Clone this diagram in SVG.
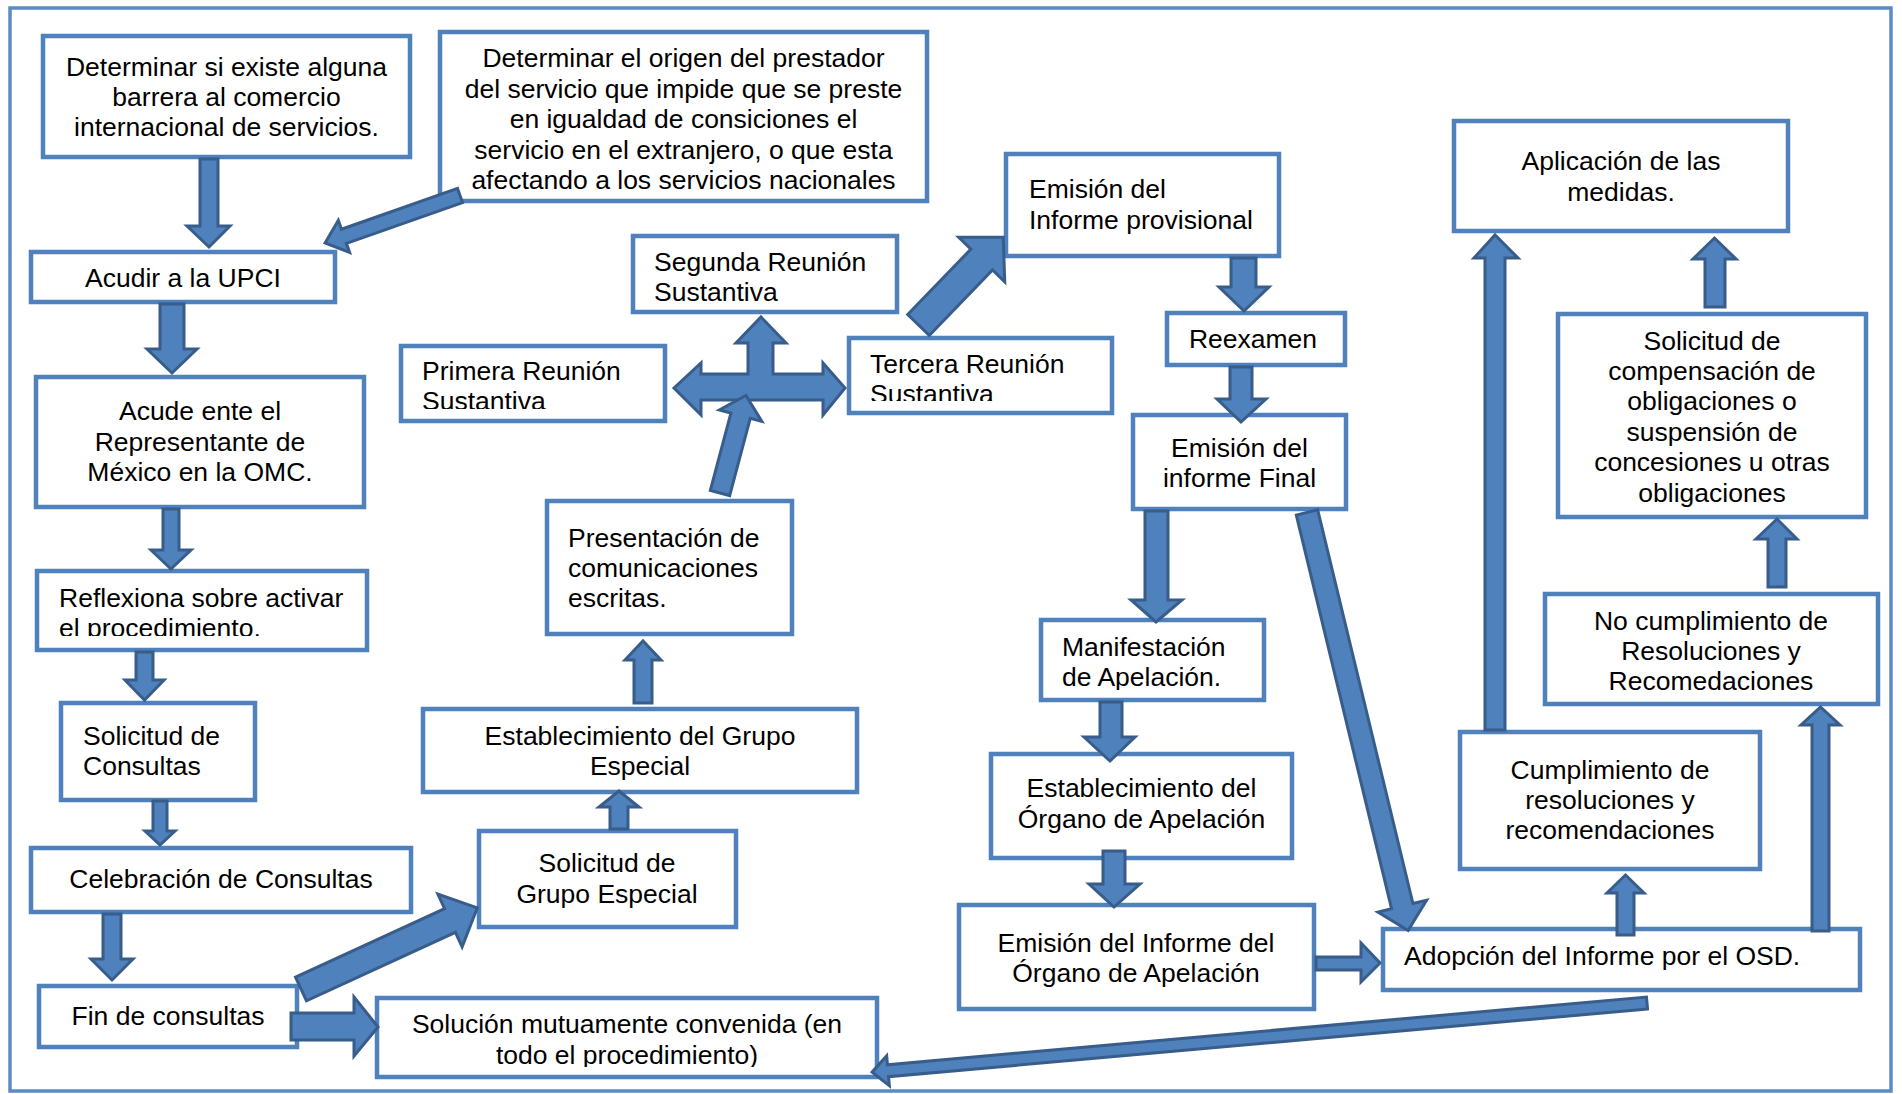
<svg xmlns="http://www.w3.org/2000/svg" width="1902" height="1094" viewBox="0 0 1902 1094">
<style>
.frame{fill:none;stroke:#5b8bc6;stroke-width:3.5}
.box{fill:#fff;stroke:#4f81bd;stroke-width:4.5}
.t{font-family:"Liberation Sans",Arial,sans-serif;font-size:26.5px;fill:#000}
.c{text-anchor:middle}
.ar{fill:#4f81bd;stroke:#385d8a;stroke-width:3;stroke-linejoin:miter}
</style>
<defs>
<clipPath id="cp5"><rect x="401" y="346" width="264" height="63"/></clipPath>
<clipPath id="cp6"><rect x="849" y="338" width="263" height="63"/></clipPath>
<clipPath id="cp12"><rect x="37" y="571" width="330" height="65"/></clipPath>
<clipPath id="cp19"><rect x="377" y="998" width="500" height="69"/></clipPath>
<clipPath id="cp21"><rect x="1041" y="620" width="223" height="70"/></clipPath>
</defs>
<rect class="frame" x="10" y="8" width="1881" height="1083"/>

<g id="n1"><rect class="box" x="43" y="36" width="367" height="121"/>
<text class="t c" x="226.5" y="76">Determinar si existe alguna</text>
<text class="t c" x="226.5" y="106">barrera al comercio</text>
<text class="t c" x="226.5" y="136">internacional de servicios.</text></g>

<g id="n2"><rect class="box" x="440" y="32" width="487" height="169"/>
<text class="t c" x="683.5" y="67">Determinar el origen del prestador</text>
<text class="t c" x="683.5" y="97.5">del servicio que impide que se preste</text>
<text class="t c" x="683.5" y="128">en igualdad de consiciones el</text>
<text class="t c" x="683.5" y="158.5">servicio en el extranjero, o que esta</text>
<text class="t c" x="683.5" y="189">afectando a los servicios nacionales</text></g>

<g id="n3"><rect class="box" x="31" y="252" width="304" height="50"/>
<text class="t c" x="183" y="287">Acudir a la UPCI</text></g>

<g id="n4"><rect class="box" x="633" y="236" width="264" height="76"/>
<text class="t" x="654" y="271">Segunda Reunión</text>
<text class="t" x="654" y="301">Sustantiva</text></g>

<g id="n5"><rect class="box" x="401" y="346" width="264" height="75"/>
<g clip-path="url(#cp5)"><text class="t" x="422" y="380">Primera Reunión</text>
<text class="t" x="422" y="410">Sustantiva</text></g></g>

<g id="n6"><rect class="box" x="849" y="338" width="263" height="75"/>
<g clip-path="url(#cp6)"><text class="t" x="870" y="373">Tercera Reunión</text>
<text class="t" x="870" y="403">Sustantiva</text></g></g>

<g id="n7"><rect class="box" x="1006" y="154" width="273" height="102"/>
<text class="t" x="1029" y="198">Emisión del</text>
<text class="t" x="1029" y="229">Informe provisional</text></g>

<g id="n8"><rect class="box" x="1167" y="313" width="178" height="52"/>
<text class="t c" x="1253" y="348">Reexamen</text></g>

<g id="n9"><rect class="box" x="1454" y="121" width="334" height="110"/>
<text class="t c" x="1621" y="170">Aplicación de las</text>
<text class="t c" x="1621" y="201">medidas.</text></g>

<g id="n10"><rect class="box" x="1558" y="314" width="308" height="203"/>
<text class="t c" x="1712" y="349.5">Solicitud de</text>
<text class="t c" x="1712" y="380">compensación de</text>
<text class="t c" x="1712" y="410">obligaciones o</text>
<text class="t c" x="1712" y="440.5">suspensión de</text>
<text class="t c" x="1712" y="471">concesiones u otras</text>
<text class="t c" x="1712" y="501.5">obligaciones</text></g>

<g id="n11"><rect class="box" x="36" y="377" width="328" height="130"/>
<text class="t c" x="200" y="420">Acude ente el</text>
<text class="t c" x="200" y="451">Representante de</text>
<text class="t c" x="200" y="481">México en la OMC.</text></g>

<g id="n12"><rect class="box" x="37" y="571" width="330" height="79"/>
<g clip-path="url(#cp12)"><text class="t" x="59" y="607">Reflexiona sobre activar</text>
<text class="t" x="59" y="637">el procedimiento.</text></g></g>

<g id="n13"><rect class="box" x="547" y="501" width="245" height="133"/>
<text class="t" x="568" y="547">Presentación de</text>
<text class="t" x="568" y="577">comunicaciones</text>
<text class="t" x="568" y="607">escritas.</text></g>

<g id="n14"><rect class="box" x="61" y="703" width="194" height="97"/>
<text class="t" x="83" y="745">Solicitud de</text>
<text class="t" x="83" y="775">Consultas</text></g>

<g id="n15"><rect class="box" x="423" y="709" width="434" height="83"/>
<text class="t c" x="640" y="745">Establecimiento del Grupo</text>
<text class="t c" x="640" y="775">Especial</text></g>

<g id="n16"><rect class="box" x="31" y="848" width="380" height="64"/>
<text class="t c" x="221" y="888">Celebración de Consultas</text></g>

<g id="n17"><rect class="box" x="479" y="831" width="257" height="96"/>
<text class="t c" x="607" y="872">Solicitud de</text>
<text class="t c" x="607" y="903">Grupo Especial</text></g>

<g id="n18"><rect class="box" x="39" y="986" width="258" height="61"/>
<text class="t c" x="168" y="1025">Fin de consultas</text></g>

<g id="n19"><rect class="box" x="377" y="998" width="500" height="79"/>
<g clip-path="url(#cp19)"><text class="t c" x="627" y="1033">Solución mutuamente convenida (en</text>
<text class="t c" x="627" y="1064">todo el procedimiento)</text></g></g>

<g id="n20"><rect class="box" x="1133" y="415" width="213" height="94"/>
<text class="t c" x="1239.5" y="457">Emisión del</text>
<text class="t c" x="1239.5" y="487">informe Final</text></g>

<g id="n21"><rect class="box" x="1041" y="620" width="223" height="80"/>
<g clip-path="url(#cp21)"><text class="t" x="1062" y="656">Manifestación</text>
<text class="t" x="1062" y="686">de Apelación.</text></g></g>

<g id="n22"><rect class="box" x="991" y="754" width="301" height="104"/>
<text class="t c" x="1141.5" y="797">Establecimiento del</text>
<text class="t c" x="1141.5" y="828">Órgano de Apelación</text></g>

<g id="n23"><rect class="box" x="959" y="905" width="355" height="104"/>
<text class="t c" x="1136" y="952">Emisión del Informe del</text>
<text class="t c" x="1136" y="982">Órgano de Apelación</text></g>

<g id="n24"><rect class="box" x="1383" y="929" width="477" height="61"/>
<text class="t" x="1404" y="965">Adopción del Informe por el OSD.</text></g>

<g id="n25"><rect class="box" x="1460" y="732" width="300" height="137"/>
<text class="t c" x="1610" y="779">Cumplimiento de</text>
<text class="t c" x="1610" y="809">resoluciones y</text>
<text class="t c" x="1610" y="839">recomendaciones</text></g>

<g id="n26"><rect class="box" x="1545" y="594" width="333" height="110"/>
<text class="t c" x="1711" y="630">No cumplimiento de</text>
<text class="t c" x="1711" y="660">Resoluciones y</text>
<text class="t c" x="1711" y="690">Recomedaciones</text></g>

<g id="connectors">
<polygon class="ar" points="200,159 218,159 218,226 230,226 209,247 187,226 200,226"/>
<polygon class="ar" transform="translate(460,195.5) rotate(160.6)" points="0,-7.5 123,-7.5 123,-17 143,0 123,17 123,7.5 0,7.5"/>
<polygon class="ar" points="160,304 184,304 184,349 197,349 172,373 147,349 160,349"/>
<polygon class="ar" points="163,509 179,509 179,550 191,550 171,569 151,550 163,550"/>
<polygon class="ar" points="136,652 153,652 153,680 164,680 144.5,700 125,680 136,680"/>
<polygon class="ar" points="153,801 167,801 167,831 175,831 160,845 145,831 153,831"/>
<polygon class="ar" points="103,914 121,914 121,959 133,959 112,980 91,959 103,959"/>
<polygon class="ar" points="291,1013 354,1013 354,997 378,1027 354,1056 354,1040 291,1040"/>
<polygon class="ar" transform="translate(301,989) rotate(-24.7)" points="0,-13 164,-13 164,-29 194,0 164,29 164,13 0,13"/>
<polygon class="ar" points="610,829 628,829 628,807 639,807 619,791 599,807 610,807"/>
<polygon class="ar" points="634,703 652,703 652,660 661,660 643,641 625,660 634,660"/>
<polygon class="ar" points="674,388 701,363 701,374 748,374 748,343 736,343 761,317 786,343 773,343 773,374 823,374 823,363 845,388 823,415 823,400 701,400 701,415"/>
<polygon class="ar" transform="translate(720,493) rotate(-75.1)" points="0,-10 80,-10 80,-22 101,0 80,22 80,10 0,10"/>
<polygon class="ar" transform="translate(918.5,325) rotate(-46)" points="0,-15 91,-15 91,-32 122,0 91,32 91,15 0,15"/>
<polygon class="ar" points="1231,258 1256,258 1256,287 1269,287 1244,311 1219,287 1231,287"/>
<polygon class="ar" points="1230,367 1252,367 1252,399 1266,399 1241,422 1217,399 1230,399"/>
<polygon class="ar" points="1145,511 1168,511 1168,600 1182,600 1156,622 1131,600 1145,600"/>
<polygon class="ar" transform="translate(1307,512.5) rotate(76.4)" points="0,-11 405,-11 405,-25 430,0 405,25 405,11 0,11"/>
<polygon class="ar" points="1100,702 1122,702 1122,737 1135,737 1110,761 1084,737 1100,737"/>
<polygon class="ar" points="1103,851 1125,851 1125,884 1140,884 1114,907 1089,884 1103,884"/>
<polygon class="ar" points="1316,957 1361,957 1361,943 1380,963 1361,982 1361,970 1316,970"/>
<polygon class="ar" transform="translate(1647,1003) rotate(174.9)" points="0,-6 762,-6 762,-15 778,0 762,15 762,6 0,6"/>
<polygon class="ar" points="1617,935 1634,935 1634,893 1644,893 1625.5,875 1607,893 1617,893"/>
<polygon class="ar" points="1812,931 1829,931 1829,725 1840,725 1820.5,707 1801,725 1812,725"/>
<polygon class="ar" points="1485,730 1505,730 1505,258 1518,258 1495,235 1474,258 1485,258"/>
<polygon class="ar" points="1705,307 1725,307 1725,259 1736,259 1714.5,238 1693,259 1705,259"/>
<polygon class="ar" points="1768,587 1786,587 1786,539 1797,539 1777,519 1756,539 1768,539"/>
</g>
</svg>
